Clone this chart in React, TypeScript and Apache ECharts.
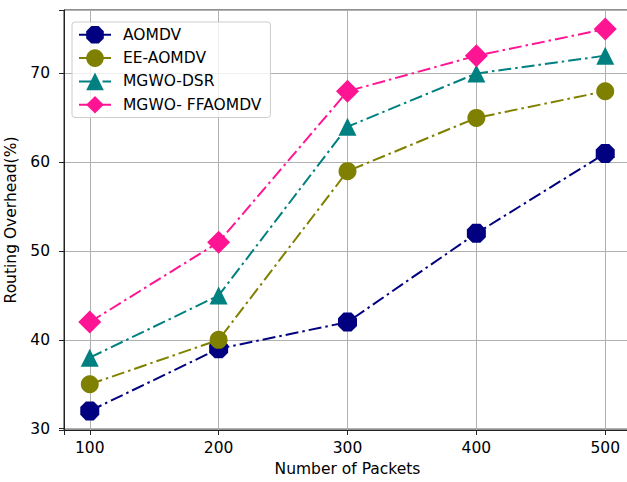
import React, { useEffect, useRef } from 'react';
import * as echarts from 'echarts';

const packets = [100, 200, 300, 400, 500];
const aomdv = [32, 39, 42, 52, 61];
const eeAomdv = [35, 40, 59, 65, 68];
const mgwoDsr = [38, 45, 64, 70, 72];
const mgwoFfaomdv = [42, 51, 68, 72, 75];
const seriesNames = ['AOMDV', 'EE-AOMDV', 'MGWO-DSR', 'MGWO- FFAOMDV'];
const xTitle = 'Number of Packets';
const yTitle = 'Routing Overhead(%)';

const FONT = 'DejaVu Sans';
const FS = 15.5;
const OCTAGON =
  'path://M29.29,0 L70.71,0 L100,29.29 L100,70.71 L70.71,100 L29.29,100 L0,70.71 L0,29.29 Z';

export default function App() {
  const ref = useRef<HTMLDivElement>(null);
  useEffect(() => {
    if (!ref.current) return;
    const chart = echarts.init(ref.current, null, { renderer: 'svg' });
    const values = [aomdv, eeAomdv, mgwoDsr, mgwoFfaomdv];
    const colors = ['#000080', '#808000', '#008080', '#ff1493'];
    const symbols = [OCTAGON, 'circle', 'triangle', 'diamond'];
    const sizes: any[] = [19, 18, 18, [23, 23]];
    const series = seriesNames.map((name, k) => ({
      type: 'line',
      name,
      data: packets.map((x, i) => [x, values[k][i]]),
      symbol: symbols[k],
      symbolSize: sizes[k],
      showAllSymbol: true,
      itemStyle: { color: colors[k], borderWidth: 0 },
      lineStyle: { color: colors[k], width: 2, type: [13, 4, 2.5, 4], cap: 'butt' },
      emphasis: { disabled: true },
      z: 2 + k,
    }));
    chart.setOption({
      animation: false,
      textStyle: { fontFamily: FONT },
      grid: {
        left: 64,
        top: 10,
        right: -4,
        bottom: 52,
        show: true,
        borderColor: '#222',
        borderWidth: 1,
        containLabel: false,
        outerBoundsMode: 'none',
      },
      legend: {
        orient: 'vertical',
        left: 72,
        top: 22,
        itemWidth: 32,
        itemHeight: 22,
        itemGap: 5.7,
        padding: [4, 9, 4, 6],
        backgroundColor: 'rgba(255,255,255,0.8)',
        borderColor: '#cccccc',
        borderWidth: 1,
        borderRadius: 3,
        textStyle: { fontFamily: FONT, fontSize: FS, color: '#000', padding: [0, 0, 0, 7] },
        data: seriesNames,
      },
      xAxis: {
        type: 'value',
        min: 80,
        max: 520,
        name: xTitle,
        nameLocation: 'middle',
        nameGap: 31,
        nameTextStyle: { fontFamily: FONT, fontSize: FS, color: '#000' },
        axisLine: { show: true, lineStyle: { color: '#222', width: 1 } },
        axisTick: { show: true, length: 5, lineStyle: { color: '#222' } },
        axisLabel: {
          fontFamily: FONT,
          fontSize: FS,
          color: '#000',
          margin: 10,
          formatter: (v: number) => (Math.abs(v % 100) < 1e-6 ? String(v) : ''),
        },
        splitLine: { show: true, lineStyle: { color: '#b0b0b0', width: 1 } },
      },
      yAxis: {
        type: 'value',
        min: 29.85,
        max: 77.15,
        name: yTitle,
        nameLocation: 'middle',
        nameGap: 37,
        nameTextStyle: { fontFamily: FONT, fontSize: FS, color: '#000' },
        axisLine: { show: true, lineStyle: { color: '#222', width: 1 } },
        axisTick: { show: true, length: 5, lineStyle: { color: '#222' } },
        axisLabel: {
          fontFamily: FONT,
          fontSize: FS,
          color: '#000',
          margin: 14,
          formatter: (v: number) => (Math.abs(v % 10) < 1e-6 ? String(v) : ''),
        },
        splitLine: { show: true, lineStyle: { color: '#b0b0b0', width: 1 } },
      },
      series,
    } as any);
    return () => chart.dispose();
  }, []);
  return (
    <div
      ref={ref}
      style={{ position: 'fixed', left: 0, top: 0, width: 627, height: 482, background: '#fff' }}
    />
  );
}
